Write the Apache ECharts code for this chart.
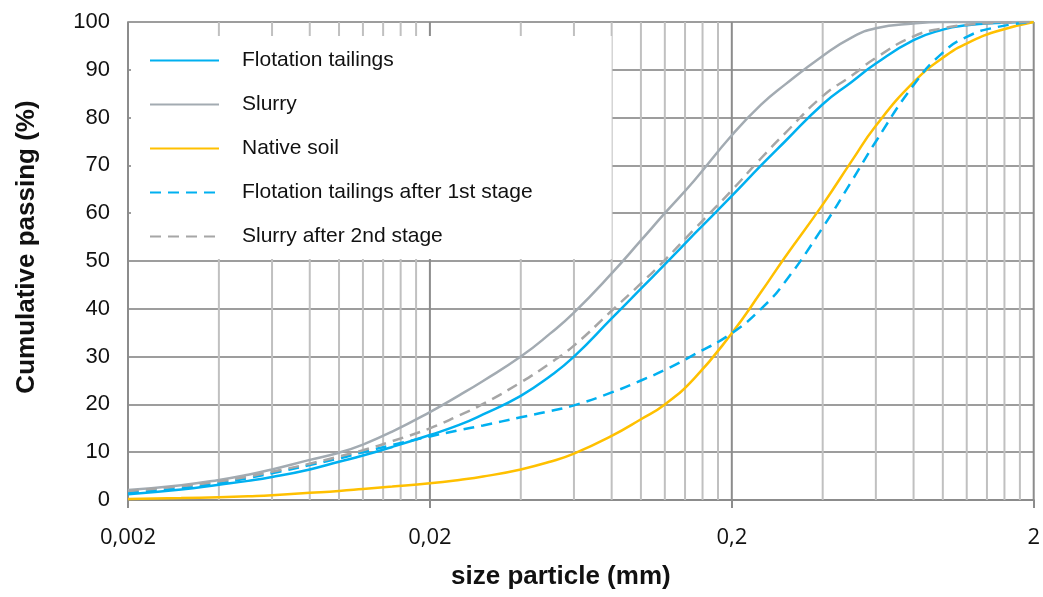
<!DOCTYPE html>
<html>
<head>
<meta charset="utf-8">
<script src="https://cdn.jsdelivr.net/npm/echarts@6/dist/echarts.min.js"></script>
<style>
html,body{margin:0;padding:0;background:#fff;}
#chart{width:1043px;height:597px;}
</style>
</head>
<body>
<div id="chart"></div>
<script>
// ---- data ----
const xTickValues = [0.002, 0.02, 0.2, 2];
const xTickLabels = ['0,002', '0,02', '0,2', '2'];
const xMinorValues = [0.004, 0.006, 0.008, 0.01, 0.012, 0.014, 0.016, 0.018,
                      0.04, 0.06, 0.08, 0.1, 0.12, 0.14, 0.16, 0.18,
                      0.4, 0.6, 0.8, 1.0, 1.2, 1.4, 1.6, 1.8];
const seriesNames = ['Flotation tailings', 'Slurry', 'Native soil',
                     'Flotation tailings after 1st stage', 'Slurry after 2nd stage'];

// particle sizes (mm) at which the curves were read
const sizes = [0.002, 0.003, 0.004, 0.005, 0.006, 0.008, 0.01, 0.012, 0.015, 0.02,
               0.025, 0.03, 0.04, 0.05, 0.06, 0.08, 0.1, 0.12, 0.15, 0.2,
               0.25, 0.3, 0.4, 0.5, 0.6, 0.8, 1, 1.2, 1.5, 2];
// cumulative passing (%)
const flotationTailings = [1.2, 2.2, 3.2, 4.0, 4.8, 6.4, 8.0, 9.3, 11.1, 13.6,
                           15.7, 17.9, 21.8, 25.9, 30.0, 38.0, 44.2, 49.3, 55.6, 63.6,
                           70.0, 75.0, 82.8, 87.5, 91.3, 96.2, 98.4, 99.3, 99.8, 100];
const slurry = [2.1, 3.1, 4.2, 5.3, 6.4, 8.4, 9.9, 11.6, 14.3, 18.4,
                21.9, 24.9, 30.0, 34.8, 39.2, 47.4, 54.3, 60.0, 66.8, 76.3,
                82.7, 86.9, 92.9, 96.8, 98.7, 99.7, 100, 100, 100, 100];
const nativeSoil = [0.2, 0.4, 0.6, 0.8, 1.0, 1.5, 1.9, 2.3, 2.8, 3.5,
                    4.2, 4.9, 6.4, 8.0, 9.7, 13.4, 16.9, 20.0, 25.4, 34.9,
                    43.5, 50.8, 61.8, 71.0, 78.3, 87.4, 92.5, 95.5, 98.0, 100];
const flotationAfter1st = [1.5, 2.5, 3.5, 4.6, 5.6, 7.3, 8.7, 10.0, 11.5, 13.3,
                           14.6, 15.6, 17.3, 18.6, 19.8, 22.5, 25.0, 27.2, 30.4, 34.9,
                           40.0, 45.6, 57.0, 66.8, 75.0, 86.8, 93.6, 96.9, 98.9, 100];
const slurryAfter2nd = [1.9, 2.9, 3.9, 4.9, 5.9, 7.6, 9.1, 10.4, 12.3, 15.0,
                        17.7, 20.1, 24.6, 28.6, 32.3, 39.6, 45.3, 50.2, 56.6, 64.8,
                        71.5, 76.7, 84.5, 88.8, 92.5, 97.0, 98.7, 99.4, 99.8, 100];

// ---- build ----
const FONT = '"Liberation Sans", Arial, sans-serif';
const valueSets = [flotationTailings, slurry, nativeSoil, flotationAfter1st, slurryAfter2nd];
const colors = ['#00b0f0', '#a3abb2', '#ffc000', '#00b0f0', '#a6a6a6'];
const dashes = ['solid', 'solid', 'solid', [11, 7], [11, 7]];

function vGrid(name, values, color) {
  return {
    name: name,
    type: 'custom',
    silent: true,
    z: 1,
    clip: false,
    data: values.map(v => [v, 0]),
    encode: { x: 0, y: 1 },
    renderItem: function (params, api) {
      const p1 = api.coord([api.value(0), 0]);
      const p2 = api.coord([api.value(0), 100]);
      return { type: 'line', shape: { x1: p1[0], y1: p1[1], x2: p2[0], y2: p2[1] },
               style: { stroke: color, lineWidth: 2 } };
    }
  };
}

const series = [vGrid('minor-grid', xMinorValues, '#c0c0c0'), vGrid('major-grid', xTickValues, '#8c8c8c')];
seriesNames.forEach((n, i) => {
  series.push({
    name: n,
    type: 'line',
    data: sizes.map((s, k) => [s, valueSets[i][k]]),
    showSymbol: false,
    symbol: 'none',
    smooth: 0.5,
    z: 3,
    lineStyle: { color: colors[i], width: 2.5, type: dashes[i] },
    itemStyle: { color: colors[i] }
  });
});

function xLabel(v) {
  for (let i = 0; i < xTickValues.length; i++) {
    if (Math.abs(Math.log10(v) - Math.log10(xTickValues[i])) < 0.01) return xTickLabels[i];
  }
  return '';
}

const chart = echarts.init(document.getElementById('chart'));
chart.setOption({
  animation: false,
  backgroundColor: '#fff',
  grid: { left: 128, right: 8, top: 22, bottom: 97 },
  legend: {
    data: seriesNames,
    orient: 'vertical',
    left: 131, top: 36,
    z: 10,
    backgroundColor: '#fff',
    padding: [14, 79, 12, 18],
    itemWidth: 69, itemHeight: 14, itemGap: 23,
    selectedMode: false,
    itemStyle: { opacity: 0 },
    textStyle: { fontFamily: FONT, fontSize: 21, color: '#111', padding: [0, 0, 0, 18], lineHeight: 21 }
  },
  xAxis: {
    type: 'log', logBase: 10, min: 0.002, max: 2,
    name: 'size particle (mm)', nameLocation: 'middle', nameGap: 64,
    nameTextStyle: { fontFamily: FONT, fontSize: 26, fontWeight: 'bold', color: '#111', padding: [0, 40, 0, 0] },
    axisLine: { show: true, lineStyle: { color: '#8c8c8c', width: 2 } },
    axisTick: { show: true, length: 8, lineStyle: { color: '#8c8c8c', width: 2 }, customValues: xTickValues },
    axisLabel: { customValues: xTickValues, formatter: xLabel, margin: 27, fontFamily: '"Open Sans", sans-serif', fontSize: 22, color: '#111' },
    splitLine: { show: false },
    minorTick: { show: false }, minorSplitLine: { show: false }
  },
  yAxis: {
    type: 'value', min: 0, max: 100, interval: 10,
    name: 'Cumulative passing (%)', nameLocation: 'middle', nameGap: 88, nameRotate: 90,
    nameTextStyle: { fontFamily: FONT, fontSize: 26, fontWeight: 'bold', color: '#111', padding: [0, 0, 0, 28] },
    axisLine: { show: true, lineStyle: { color: '#9d9d9d', width: 2 } },
    axisTick: { show: false },
    axisLabel: { margin: 18, fontFamily: FONT, fontSize: 22, color: '#111' },
    splitLine: { show: true, lineStyle: { color: '#9d9d9d', width: 2 } }
  },
  series: series
});
</script>
</body>
</html>
